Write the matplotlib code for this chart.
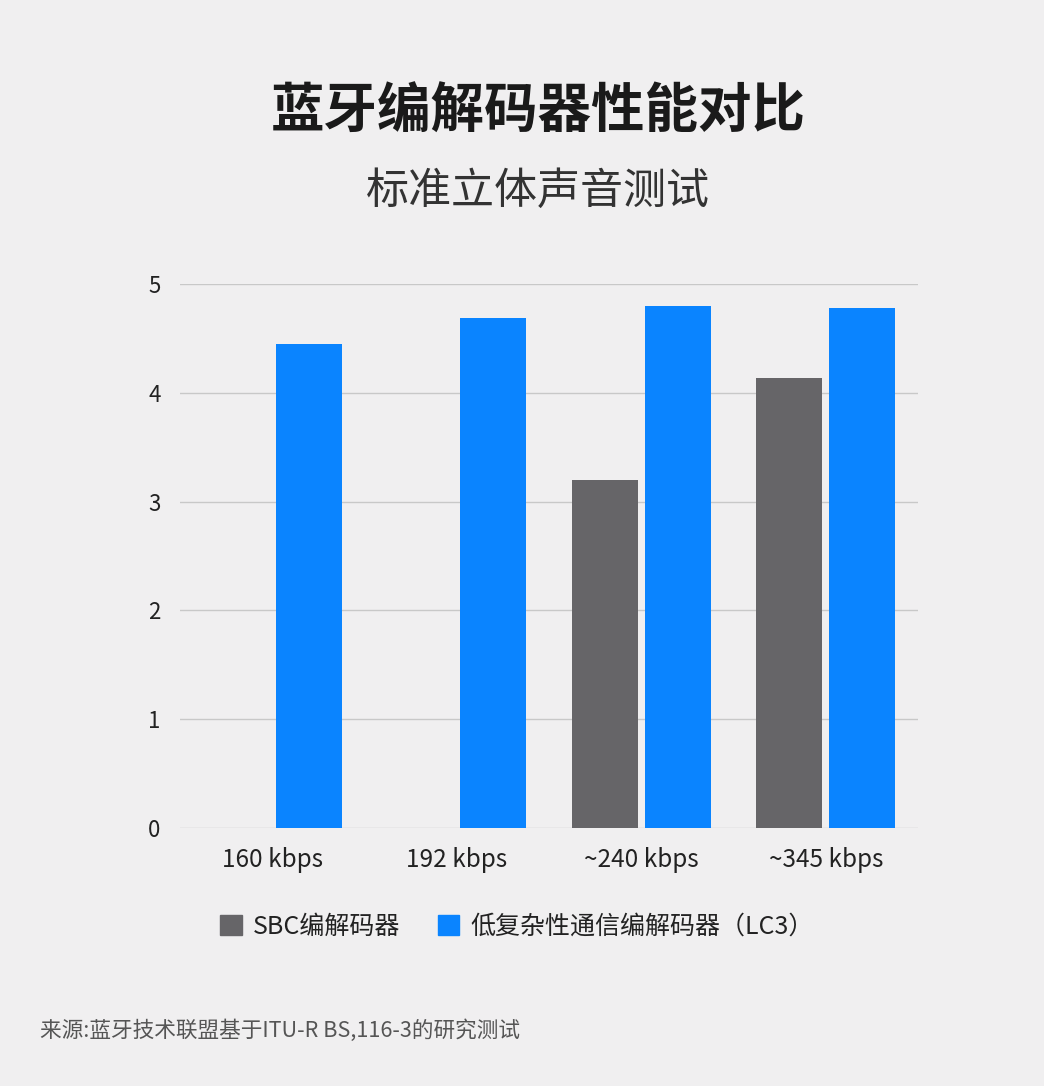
import numpy as np
import matplotlib.pyplot as plt
from matplotlib.patches import Patch

plt.rcParams['font.family'] = ['Noto Sans CJK SC', 'DejaVu Sans']

categories = ['160 kbps', '192 kbps', '~240 kbps', '~345 kbps']
sbc = [0, 0, 3.20, 4.14]
lc3 = [4.45, 4.69, 4.80, 4.78]
yticks = [0, 1, 2, 3, 4, 5]

bg = '#f0eff0'
gray = '#666568'
blue = '#0a84ff'

fig = plt.figure(figsize=(10.44, 10.86), dpi=100, facecolor=bg)
ax = fig.add_axes([180 / 1044, 1 - 828 / 1086, 738 / 1044, 544 / 1086], facecolor=bg)

x = np.arange(len(categories))
w = 0.358
off = 0.198
ax.bar(x - off, sbc, w, color=gray, zorder=3)
ax.bar(x + off, lc3, w, color=blue, zorder=3)

ax.set_xlim(-0.5, 3.5)
ax.set_ylim(0, 5)
ax.set_yticks(yticks)
ax.set_yticklabels([str(v) for v in yticks], fontsize=16, color='#222222')
ax.set_xticks(x)
ax.set_xticklabels(categories, fontsize=17.5, color='#222222')
ax.tick_params(axis='both', length=0)
ax.tick_params(axis='y', pad=14)
ax.tick_params(axis='x', pad=14)
ax.grid(axis='y', color='#c8c8c8', linewidth=1, zorder=0)
for s in ax.spines.values():
    s.set_visible(False)

fig.text(538 / 1044, 1 - 112 / 1086, '蓝牙编解码器性能对比', ha='center', va='center',
         fontsize=38.5, fontweight='bold', color='#1a1a1a')
fig.text(538 / 1044, 1 - 192 / 1086, '标准立体声音测试', ha='center', va='center',
         fontsize=31, color='#333333')

handles = [Patch(color=gray, label='SBC编解码器'),
           Patch(color=blue, label='低复杂性通信编解码器（LC3）')]
fig.legend(handles=handles, loc='center', bbox_to_anchor=(517 / 1044, 1 - 927 / 1086),
           ncol=2, frameon=False, fontsize=18, handlelength=0.85, handleheight=0.85,
           handletextpad=0.45, columnspacing=1.5, labelcolor='#222222')

fig.text(40 / 1044, 1 - 1031 / 1086, '来源:蓝牙技术联盟基于ITU-R BS,116-3的研究测试',
         ha='left', va='center', fontsize=15.6, color='#555555')

fig.savefig('out.png', dpi=100, facecolor=bg)
